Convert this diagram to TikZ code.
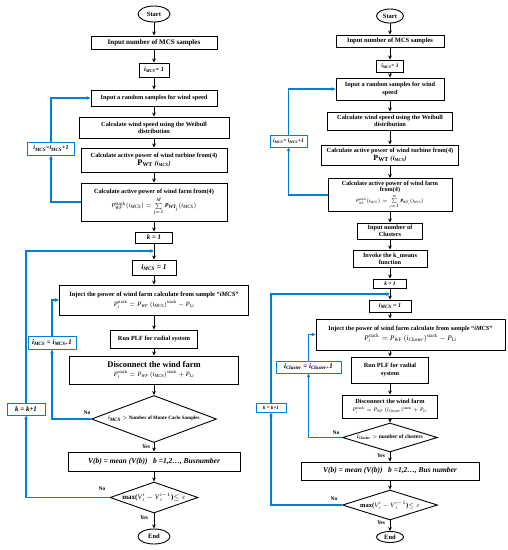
\documentclass[tikz,border=0pt]{standalone}
\usepackage{amsmath,amssymb}
\usepackage{fontspec}
\setmainfont{Liberation Serif}
\usetikzlibrary{shapes.geometric,arrows.meta}
\definecolor{lblue}{RGB}{0,128,210}
\newcommand{\fz}[2]{\fontsize{#1}{#2}\selectfont}
\newcommand{\imcs}{\textit{i}\textsubscript{\textit{MCS}}}
\newcommand{\iclu}{\textit{i}\textsubscript{\textit{Cluster}}}
\newcommand{\mi}[1]{\text{\normalfont\itshape #1}}
\newcommand{\mr}[1]{\text{\normalfont #1}}
\newcommand{\bi}[1]{\text{\bfseries\itshape #1}}
\tikzset{
 box/.style={draw, line width=0.9pt, fill=white, align=center, inner sep=1pt, font=\bfseries\fz{6.3}{7.2}},
 bbox/.style={box, draw=lblue},
 term/.style={ellipse, draw, line width=0.9pt, inner sep=0pt, font=\bfseries\fz{6.5}{7}},
 dec/.style={diamond, draw, line width=0.9pt, inner sep=0pt},
 arr/.style={-{Stealth[length=4pt,width=3.6pt]}, line width=0.9pt},
 barr/.style={arr, draw=lblue, line width=1.1pt},
 lab/.style={font=\bfseries\fz{5.5}{6}, inner sep=1pt}
}
\begin{document}
\begin{tikzpicture}[x=1pt,y=-1pt]
\useasboundingbox (0,0) rectangle (508,550);
% ---------------- left chart ----------------
\node[term, minimum width=32, minimum height=16] (Ls) at (154,14) {Start};
\node[box, minimum width=126, minimum height=13, font=\bfseries\fz{7}{8}] (L1) at (154,42.5) {Input number of MCS samples};
\node[box, minimum width=30, minimum height=14] (L2) at (154,70) {\imcs\textit{= 1}};
\node[box, minimum width=126, minimum height=16] (L3) at (154,98) {Input a random samples for wind speed};
\node[box, minimum width=150, minimum height=21] (L4) at (154,127.5) {Calculate wind speed using the Weibull\\distribution};
\node[box, minimum width=146, minimum height=24] (L5) at (154,160) {Calculate active power of wind turbine from(4)\\{\fz{8.5}{9}P\textsubscript{WT}} \textit{(}\imcs\textit{)}};
\node[box, minimum width=146, minimum height=38] (L6) at (154,202) {Calculate active power of wind farm from(4)\\[2.5pt] {\fz{6}{7}$\mi{P}_{\mi{WF}}^{\mr{stack}}(\mi{i}_{\mi{MCS}})=\sum\limits_{\mi{j}=1}^{\mi{M}}\bi{P}_{\bi{WT}_{\mi{j}}}(\mi{i}_{\mi{MCS}})$}};
\node[box, minimum width=37, minimum height=11, font=\bfseries\itshape\fz{7}{8}] (L7) at (154,237.5) {k = 1};
\node[box, minimum width=44, minimum height=15, font=\bfseries\itshape\fz{7.5}{8}] (L8) at (154,267.5) {i\textsubscript{MCS} = 1};
\node[box, minimum width=189, minimum height=30, font=\bfseries\fz{6.5}{8}] (L9) at (154,300) {Inject the power of wind farm calculate from sample ``\textit{iMCS}''\\[1.5pt] $\mi{P}_{\mi{i}}^{\mr{stack}}=\mi{P}_{\mi{WF}}\left(\mi{i}_{\mi{MCS}}\right)^{\mr{stack}}-\mi{P}_{\mi{Li}}$};
\node[box, minimum width=87, minimum height=18] (L10) at (154,339) {Run PLF for radial system};
\node[box, minimum width=169, minimum height=28] (L11) at (154,370) {{\fz{8.5}{10}Disconnect the wind farm}\\[1pt] {\fz{6.5}{7}$\mi{P}_{\mi{i}}^{\mr{stack}}=\mi{P}_{\mi{WF}}\left(\mi{i}_{\mi{MCS}}\right)^{\mr{stack}}+\mi{P}_{\mi{Li}}$}};
\node[dec, minimum width=125, minimum height=47] (L12) at (154,419) {};
\node[font=\bfseries\fz{5}{6}] (L12t) at (L12) {\imcs{} $>$ Number of Monte Carlo Samples};
\node[box, minimum width=172, minimum height=19, font=\bfseries\itshape\fz{7.5}{8}] (L13) at (154,461.5) {V(b) = mean (V(b)) \ \ b =1,2…, Busnumber};
\node[dec, minimum width=88, minimum height=31] (L14) at (154,497.5) {};
\node[font=\bfseries\fz{7}{8}, inner sep=0pt] (L14t) at (L14) {max($\mi{V}^{\,\mi{t}}_{\,\mi{i}}-\mi{V}^{\,\mi{t}-1}_{\,\mi{i}}$)$\le\varepsilon$};
\node[term, minimum width=32, minimum height=15] (Le) at (154,536.5) {End};
% blue boxes
\node[bbox, minimum width=47, minimum height=13, font=\bfseries\itshape\fz{6}{7}] (Lb1) at (51,148.5) {i\textsubscript{MCS}=i\textsubscript{MCS}+1};
\node[bbox, minimum width=48, minimum height=13, font=\bfseries\itshape\fz{7}{8}] (Lb2) at (52,342.5) {i\textsubscript{MCS} = i\textsubscript{MCS+}1};
\node[bbox, minimum width=38, minimum height=12, font=\bfseries\itshape\fz{7}{8}] (Lb3) at (26,409) {k = k+1};
\coordinate (Lj) at (154,251);
% main connectors
\foreach \a/\b in {Ls/L1,L1/L2,L2/L3,L3/L4,L4/L5,L5/L6,L6/L7,L7/L8,L8/L9,L9/L10,L10/L11,L11/L12,L12/L13,L13/L14,L14/Le}
  \draw[arr] (\a.south) -- (\b.north);
\draw[barr] (L6.west) -| (Lb1.south);
\draw[barr] (Lb1.north) |- (L3.west);
\draw[barr] (L12.west) -| (Lb2.south);
\draw[barr] (Lb2.north) |- (L9.west);
\draw[barr] (L14.west) -| (Lb3.south);
\draw[barr] (Lb3.north) |- (Lj);
\node[lab] at (87,413) {No};
\node[lab] at (146,447) {Yes};
\node[lab] at (102,489) {No};
\node[lab] at (144,518) {Yes};
% ---------------- right chart ----------------
\node[term, minimum width=27, minimum height=14] (Rs) at (390,16) {Start};
\node[box, minimum width=108, minimum height=12, font=\bfseries\fz{6.5}{7.5}] (R1) at (390,41) {Input number of MCS samples};
\node[box, minimum width=27, minimum height=12, font=\bfseries\fz{5.5}{6.5}] (R2) at (390,66) {\imcs\textit{= 1}};
\node[box, minimum width=108, minimum height=22] (R3) at (390,89) {Input a random samples for wind\\speed};
\node[box, minimum width=125, minimum height=18] (R4) at (390,121) {Calculate wind speed using the Weibull\\distribution};
\node[box, minimum width=137, minimum height=20] (R5) at (390,155) {Calculate active power of wind turbine from(4)\\{\fz{8}{8.5}P\textsubscript{WT}} \textit{(}\imcs\textit{)}};
\node[box, minimum width=124, minimum height=33, font=\bfseries\fz{6.2}{6.4}] (R6) at (390,195) {Calculate active power of wind farm\\from(4)\\[0.8pt] {\fz{4.8}{5}$\mi{P}_{\mi{WF}}^{\mr{stack}}(\mi{i}_{\mi{MCS}})=\sum\limits_{\mi{j}=1}^{\mi{M}}\bi{P}_{\bi{WT}_{\mi{j}}}(\mi{i}_{\mi{MCS}})$}};
\node[box, minimum width=65, minimum height=16] (R7) at (390,231) {Input number of\\Clusters};
\node[box, minimum width=74, minimum height=17] (R8) at (390,258.5) {Invoke the k\_means\\function};
\node[box, minimum width=33, minimum height=9, font=\bfseries\itshape\fz{5.5}{6}] (R9) at (390,283.5) {k = 1};
\node[box, minimum width=42, minimum height=12, font=\bfseries\itshape\fz{6}{7}] (R10) at (390,306) {i\textsubscript{MCS} = 1};
\node[box, minimum width=189, minimum height=31, font=\bfseries\fz{6.3}{8}] (R11) at (410.5,334.5) {Inject the power of wind farm calculate from sample ``\textit{iMCS}''\\[1.5pt] {\fz{7}{8}$\mi{P}_{\mi{i}}^{\mr{stack}}=\mi{P}_{\mi{WF}}\left(\mi{i}_{\mi{Cluster}}\right)^{\mr{stack}}-\mi{P}_{\mi{Li}}$}};
\node[box, minimum width=77, minimum height=26] (R12) at (390,370) {Run PLF for radial\\system};
\node[box, minimum width=95, minimum height=23] (R13) at (390,406.5) {Disconnect the wind farm\\[0.5pt] {\fz{5.5}{6}$\mi{P}_{\mi{i}}^{\mr{stack}}=\mi{P}_{\mi{WF}}\left(\mi{i}_{\mi{Cluster}}\right)^{\mr{stack}}+\mi{P}_{\mi{Li}}$}};
\node[dec, minimum width=95, minimum height=29] (R14) at (390,437.5) {};
\node[font=\bfseries\fz{5.5}{6}] (R14t) at (R14) {\iclu{} $>$ number of clusters};
\node[box, minimum width=178, minimum height=18, font=\bfseries\itshape\fz{7.5}{8}] (R15) at (390,471) {V(b) = mean (V(b)) \ \ b =1,2…, Bus number};
\node[dec, minimum width=95, minimum height=30] (R16) at (390,505) {};
\node[font=\bfseries\fz{6.5}{7}, inner sep=0pt] (R16t) at (R16) {max($\mi{V}^{\,\mi{t}}_{\,\mi{i}}-\mi{V}^{\,\mi{t}-1}_{\,\mi{i}}$)$\le\varepsilon$};
\node[term, minimum width=27, minimum height=11] (Re) at (390,537) {End};
% blue boxes
\node[bbox, minimum width=37, minimum height=12, font=\bfseries\itshape\fz{5.5}{6}] (Rb1) at (288.5,141) {i\textsubscript{MCS}= i\textsubscript{MCS}+1};
\node[bbox, minimum width=65, minimum height=12, font=\bfseries\itshape\fz{7}{8}] (Rb2) at (308.5,367) {i\textsubscript{Cluster} = i\textsubscript{Cluster+}1};
\node[bbox, minimum width=30, minimum height=9, font=\bfseries\itshape\fz{5}{6}] (Rb3) at (271,407.5) {k = k+1};
\coordinate (Rj) at (390,294);
\foreach \a/\b in {Rs/R1,R1/R2,R2/R3,R3/R4,R4/R5,R5/R6,R6/R7,R7/R8,R8/R9,R9/R10,R12/R13,R13/R14,R14/R15,R15/R16,R16/Re}
  \draw[arr] (\a.south) -- (\b.north);
\draw[arr] (R10.south) -- (R10.south |- R11.north);
\draw[arr] (R12.north |- R11.south) -- (R12.north);
\draw[barr] (R6.west) -| (Rb1.south);
\draw[barr] (Rb1.north) |- (R3.west);
\draw[barr] (R14.west) -| (Rb2.south);
\draw[barr] (Rb2.north) |- (R11.west);
\draw[barr] (R16.west) -| (Rb3.south);
\draw[barr] (Rb3.north) |- (Rj);
\node[lab] at (336,433) {No};
\node[lab] at (381,456) {Yes};
\node[lab] at (334,499) {No};
\node[lab] at (381,523) {Yes};
\end{tikzpicture}
\end{document}
